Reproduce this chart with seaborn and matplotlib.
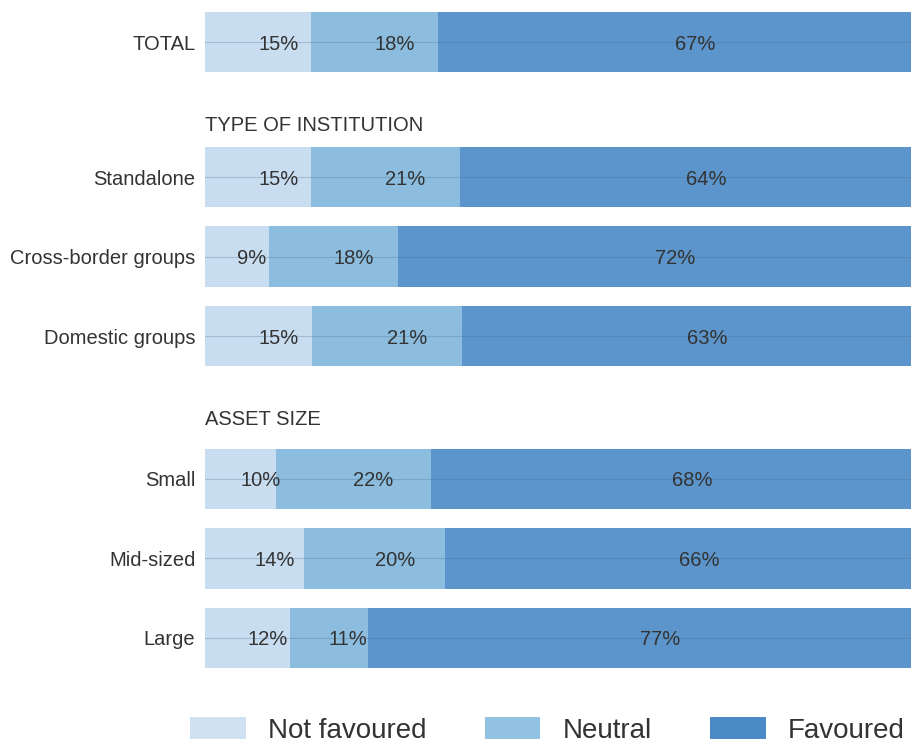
import numpy as np
import pandas as pd
import matplotlib.pyplot as plt
import seaborn as sns
from matplotlib.patches import Patch

sns.set_theme(style='white')
plt.rcParams['font.family'] = ['Liberation Sans', 'DejaVu Sans']

groups = ['TOTAL', 'Standalone', 'Cross-border groups', 'Domestic groups',
          'Small', 'Mid-sized', 'Large']
row_pos = [0, 1.7, 2.7, 3.7, 5.5, 6.5, 7.5]
not_favoured = [15, 15, 9, 15, 10, 14, 12]
neutral = [18, 21, 18, 21, 22, 20, 11]
favoured = [67, 64, 72, 63, 68, 66, 77]
sections = ['TYPE OF INSTITUTION', 'ASSET SIZE']
section_pos = [1.02, 4.73]

series = ['Not favoured', 'Neutral', 'Favoured']
colors = ['#d0e1f2', '#92c2e2', '#4a8ac6']

df = pd.DataFrame({'group': groups, 'pos': row_pos,
                   'Not favoured': not_favoured, 'Neutral': neutral,
                   'Favoured': favoured})
tot = df[series].sum(axis=1)
# cumulative shares, normalised so every bar ends at 100
cum = df[series].cumsum(axis=1).div(tot, axis=0) * 100

fig = plt.figure(figsize=(9.12, 7.46), dpi=100)
ax = fig.add_axes([205 / 912, 1 - 668 / 746, 1 - 205 / 912, (668 - 12) / 746])

# draw longest first so the shorter ones sit on top
for s, c in reversed(list(zip(series, colors))):
    sns.barplot(x=cum[s], y=df['pos'], orient='y', native_scale=True,
                color=c, width=0.76, saturation=1, alpha=0.9, linewidth=0,
                edgecolor='none', ax=ax)

for p in row_pos:
    ax.axhline(p, color='#4a6f8f', lw=0.8, alpha=0.3, zorder=5)

for i in range(len(df)):
    start = 0
    for s in series:
        end = cum[s].iloc[i]
        ax.text((start + end) / 2, df['pos'].iloc[i], f"{df[s].iloc[i]}%",
                ha='left', va='center_baseline', fontsize=14.5, color='#333333',
                zorder=6)
        start = end

for t, p in zip(sections, section_pos):
    ax.text(0, p, t, ha='left', va='center_baseline', fontsize=14.5,
            color='#333333')

ax.set_xlim(0, 100)
ax.set_ylim(7.5 + 0.38, -0.38)
ax.set_yticks(row_pos)
ax.set_yticklabels(groups, fontsize=14.5, color='#333333')
ax.tick_params(axis='y', length=0, pad=7)
ax.set_xticks([])
ax.set_xlabel('')
ax.set_ylabel('')
sns.despine(ax=ax, left=True, bottom=True)

handles = [Patch(facecolor=c, edgecolor='none') for c in colors]
fig.legend(handles, series, loc='lower left', bbox_to_anchor=(190 / 912, 0.003),
           ncol=3, frameon=False, fontsize=20, handlelength=2.0, handleheight=0.85,
           handletextpad=0.8, columnspacing=2.1, borderpad=0, borderaxespad=0,
           labelcolor='#333333')

plt.savefig('out.png', dpi=100)
